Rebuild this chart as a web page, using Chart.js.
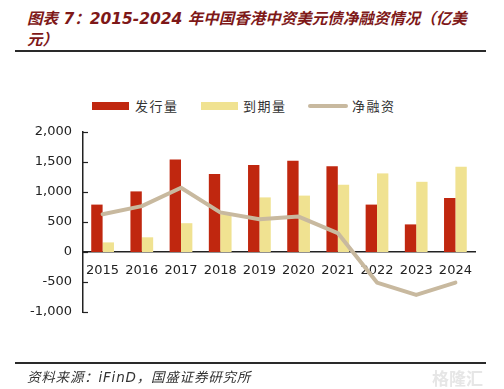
<!DOCTYPE html>
<html>
<head>
<meta charset="utf-8">
<script src="https://cdn.jsdelivr.net/npm/chart.js@4.4.1/dist/chart.umd.min.js"></script>
<style>
  html, body { margin: 0; padding: 0; background: #fff; }
  #wrap { position: relative; width: 504px; height: 389px; overflow: hidden; }
  #chart { position: absolute; left: 0; top: 0; }
  .title {
    position: absolute; left: 27px; top: 9px; width: 477px; white-space: nowrap;
    font: italic bold 15.5px "DejaVu Sans", "Noto Sans CJK SC", sans-serif;
    color: #7e1818; line-height: 21px; letter-spacing: 0px;
  }
  .rule { position: absolute; left: 15px; width: 471px; height: 2px; background: #2a2a2a; }
  .legend { position: absolute; top: 97px; height: 18px; font: 13px "Noto Sans CJK SC", sans-serif; color: #333; }
  .legend span { position: absolute; white-space: nowrap; letter-spacing: 1.5px; line-height: 18px; }
  .legend i { position: absolute; display: block; }
  .source {
    position: absolute; left: 27px; top: 366px;
    font: italic 13.5px "DejaVu Sans", "Noto Sans CJK SC", sans-serif; color: #333;
    letter-spacing: 0.8px;
  }
  .mark {
    position: absolute; left: 432px; top: 365px;
    font: bold 17px "Noto Sans CJK SC", sans-serif; color: #e6e6e6;
  }
</style>
</head>
<body>
<div id="wrap">
  <div class="title">图表 7：2015-2024 年中国香港中资美元债净融资情况（亿美<br>元）</div>
  <div class="rule" style="top:50px"></div>
  <div class="legend" style="left:0;width:504px">
    <i style="left:92px;top:5px;width:37px;height:8px;background:#c0270f"></i>
    <span style="left:135px">发行量</span>
    <i style="left:201px;top:5px;width:37px;height:8px;background:#f0e291"></i>
    <span style="left:243px">到期量</span>
    <i style="left:308px;top:7px;width:40px;height:4px;background:#c8b99f;border-radius:2px"></i>
    <span style="left:352px">净融资</span>
  </div>
  <canvas id="chart" width="504" height="389"></canvas>
  <div class="rule" style="top:362px"></div>
  <div class="source">资料来源：iFinD，国盛证券研究所</div>
  <div class="mark">格隆汇</div>
</div>
<script>
// 数据 (亿美元)
const years = ['2015', '2016', '2017', '2018', '2019', '2020', '2021', '2022', '2023', '2024'];
const issuance = [790, 1010, 1540, 1300, 1450, 1520, 1430, 790, 460, 900];
const maturity = [160, 245, 480, 630, 910, 940, 1120, 1310, 1170, 1420];
const netFinancing = [630, 765, 1070, 660, 545, 590, 315, -510, -715, -510];
const yTicks = [2000, 1500, 1000, 500, 0, -500, -1000];

// 刻度线朝内
const innerTicks = {
    id: 'innerTicks',
    afterDraw(chart) {
        const y = chart.scales.y;
        const ctx = chart.ctx;
        ctx.save();
        ctx.strokeStyle = '#222';
        ctx.lineWidth = 1.2;
        yTicks.forEach(v => {
            const py = Math.round(y.getPixelForValue(v)) + 0.5;
            ctx.beginPath();
            ctx.moveTo(y.right, py);
            ctx.lineTo(y.right + 5, py);
            ctx.stroke();
        });
        ctx.restore();
    }
};

new Chart(document.getElementById('chart'), {
    data: {
        labels: years,
        datasets: [
            {
                type: 'line',
                label: '净融资',
                data: netFinancing,
                borderColor: '#c8b99f',
                borderWidth: 4,
                pointRadius: 0,
                tension: 0,
                borderCapStyle: 'round',
                borderJoinStyle: 'round',
                order: 0
            },
            {
                type: 'bar',
                label: '发行量',
                data: issuance,
                backgroundColor: '#c0270f',
                categoryPercentage: 0.58,
                barPercentage: 1.0,
                order: 1
            },
            {
                type: 'bar',
                label: '到期量',
                data: maturity,
                backgroundColor: '#f0e291',
                categoryPercentage: 0.58,
                barPercentage: 1.0,
                order: 1
            }
        ]
    },
    options: {
        responsive: false,
        animation: false,
        locale: 'en-US',
        layout: { padding: { left: 0, right: 29, top: 132, bottom: 77 } },
        plugins: { legend: { display: false }, tooltip: { enabled: false } },
        scales: {
            x: {
                type: 'category',
                position: { y: 0 },
                offset: true,
                grid: { display: false, drawTicks: false },
                border: { display: true, color: '#222', width: 1.5 },
                ticks: { color: '#222', font: { family: 'DejaVu Sans', size: 13 }, padding: 11, maxRotation: 0 }
            },
            y: {
                min: -1000,
                max: 2000,
                afterFit(s) { s.width = 83; },
                afterBuildTicks(s) { s.ticks = yTicks.map(v => ({ value: v })); },
                grid: { display: false, drawTicks: false },
                border: { display: true, color: '#222', width: 1.5 },
                ticks: { color: '#222', font: { family: 'DejaVu Sans', size: 13 }, padding: 11 }
            }
        }
    },
    plugins: [innerTicks]
});
</script>
</body>
</html>
